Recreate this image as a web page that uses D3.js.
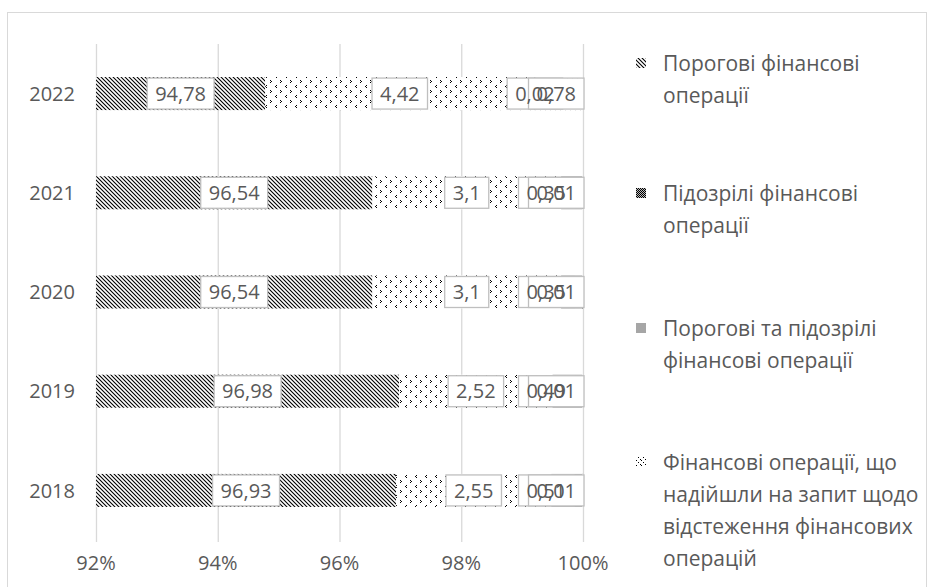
<!DOCTYPE html>
<html>
<head>
<meta charset="utf-8">
<script src="https://cdn.jsdelivr.net/npm/d3@7"></script>
<style>
  html, body { margin: 0; padding: 0; background: #fff; }
  svg text { font-family: "Open Sans", "Noto Sans", sans-serif; fill: #595959; }
</style>
</head>
<body>
<svg id="chart" width="929" height="587"></svg>
<script>
// Years (top to bottom) and the share of each message type, %
const years = ["2022", "2021", "2020", "2019", "2018"];
const porohovi = [94.78, 96.54, 96.54, 96.98, 96.93];
const pidozrili = [4.42, 3.1, 3.1, 2.52, 2.55];
const porohoviTaPidozrili = [0.02, 0.35, 0.35, 0.49, 0.51];
const zapyt = [0.78, 0.01, 0.01, 0.01, 0.01];

const seriesNames = [
  ["Порогові фінансові", "операції"],
  ["Підозрілі фінансові", "операції"],
  ["Порогові та підозрілі", "фінансові операції"],
  ["Фінансові операції, що", "надійшли на запит щодо", "відстеження фінансових", "операцій"]
];
const tickValues = [92, 94, 96, 98, 100];

const svg = d3.select("#chart");
const W = 929, H = 587;

// chart frame
svg.append("rect").attr("x", 7.5).attr("y", 12.5).attr("width", W - 10).attr("height", H)
  .attr("fill", "none").attr("stroke", "#d9d9d9").attr("stroke-width", 1);

// fill patterns
const defs = svg.append("defs");
function dotPattern(id, size, pts, bg) {
  const p = defs.append("pattern").attr("id", id).attr("patternUnits", "userSpaceOnUse")
    .attr("width", size).attr("height", size);
  p.append("rect").attr("width", size).attr("height", size).attr("fill", bg || "#fff");
  pts.forEach(([x, y]) => p.append("rect").attr("x", x).attr("y", y).attr("width", 1).attr("height", 1).attr("fill", "#000"));
  return "url(#" + id + ")";
}
const hatch = defs.append("pattern").attr("id", "hatch").attr("patternUnits", "userSpaceOnUse")
  .attr("width", 4).attr("height", 4);
hatch.append("rect").attr("width", 4).attr("height", 4).attr("fill", "#fff");
hatch.append("path").attr("d", "M-1,-1 L5,5 M-1,3 L1,5 M3,-1 L5,1")
  .attr("stroke", "#000").attr("stroke-width", 1.1);

const fills = [
  "url(#hatch)",
  dotPattern("sparse", 10, [[0, 0], [1, 1], [0, 2], [6, 5], [5, 6], [6, 7]]),
  "#a6a6a6",
  dotPattern("dots", 5, [[0, 0], [2, 3]])
];
// legend keys
const keyFills = [
  "url(#hatch)",
  dotPattern("checker", 2, [[0, 0], [1, 1]], "#bbb"),
  "#a6a6a6",
  dotPattern("keydots", 5, [[1, 0], [3, 2], [0, 4]])
];

// scales
const x = d3.scaleLinear().domain([92, 100]).range([96, 583]);
const y = d3.scaleBand().domain(years).range([44, 540]).paddingInner(0.667).paddingOuter(0.333);

// vertical gridlines
svg.append("g").selectAll("line").data(tickValues).join("line")
  .attr("x1", d => x(d) + 0.5).attr("x2", d => x(d) + 0.5)
  .attr("y1", 44).attr("y2", 542)
  .attr("stroke", "#d9d9d9").attr("stroke-width", 1.3);

// stacked data
const keys = ["p", "s", "ps", "z"];
const rows = years.map((yr, i) => ({ year: yr, p: porohovi[i], s: pidozrili[i], ps: porohoviTaPidozrili[i], z: zapyt[i] }));
const stacked = d3.stack().keys(keys)(rows);

const clipX0 = x.range()[0];
const bars = svg.append("g");
stacked.forEach((layer, si) => {
  bars.selectAll(null).data(layer).join("rect")
    .attr("x", d => Math.max(clipX0, x(d[0])))
    .attr("y", d => y(d.data.year))
    .attr("width", d => Math.max(0, x(d[1]) - Math.max(clipX0, x(d[0]))))
    .attr("height", y.bandwidth())
    .attr("fill", fills[si]);
});

// value labels: boxes first, texts on top; labels near the right edge are pulled inside the plot
const fmt = v => String(v).replace(".", ",");
const labelFont = 20;
const rightLimit = [x(100) + 1, x(100) + 1, x(100) - 9, x(100) + 1];
const labels = [];
stacked.forEach((layer, si) => {
  layer.forEach(d => {
    const a = Math.max(92, d[0]), b = d[1];
    labels.push({ v: d.data[keys[si]], si, cx: x((a + b) / 2), cy: y(d.data.year) + y.bandwidth() / 2 });
  });
});
const measure = svg.append("text").attr("font-size", labelFont);
labels.forEach(l => {
  measure.text(fmt(l.v));
  l.w = measure.node().getComputedTextLength() + 16;
  const maxC = rightLimit[l.si] - l.w / 2;
  if (l.cx > maxC) l.cx = maxC;
});
measure.remove();
const lg = svg.append("g");
lg.selectAll("rect").data(labels).join("rect")
  .attr("x", d => d.cx - d.w / 2).attr("y", d => d.cy - 15.5)
  .attr("width", d => d.w).attr("height", 31)
  .attr("fill", "#fff").attr("stroke", "#bfbfbf").attr("stroke-width", 1.3);
lg.selectAll("text").data(labels).join("text")
  .attr("x", d => d.cx).attr("y", d => d.cy).attr("dy", "0.36em")
  .attr("text-anchor", "middle").attr("font-size", labelFont)
  .text(d => fmt(d.v));

// category axis labels
svg.append("g").selectAll("text").data(years).join("text")
  .attr("x", 75).attr("y", d => y(d) + y.bandwidth() / 2).attr("dy", "0.36em")
  .attr("text-anchor", "end").attr("font-size", 20).text(d => d);

// value axis labels
svg.append("g").selectAll("text").data(tickValues).join("text")
  .attr("x", d => x(d)).attr("y", 563).attr("dy", "0.36em")
  .attr("text-anchor", "middle").attr("font-size", 20).text(d => d + "%");

// legend
const legendTop = [63, 193, 328, 462];
const leg = svg.append("g");
seriesNames.forEach((lines, i) => {
  leg.append("rect").attr("x", 636).attr("y", legendTop[i] - 5).attr("width", 10).attr("height", 10)
    .attr("fill", keyFills[i]);
  lines.forEach((t, j) => {
    leg.append("text").attr("x", 663).attr("y", legendTop[i] + j * 32).attr("dy", "0.36em")
      .attr("font-size", 21).text(t);
  });
});
</script>
</body>
</html>
